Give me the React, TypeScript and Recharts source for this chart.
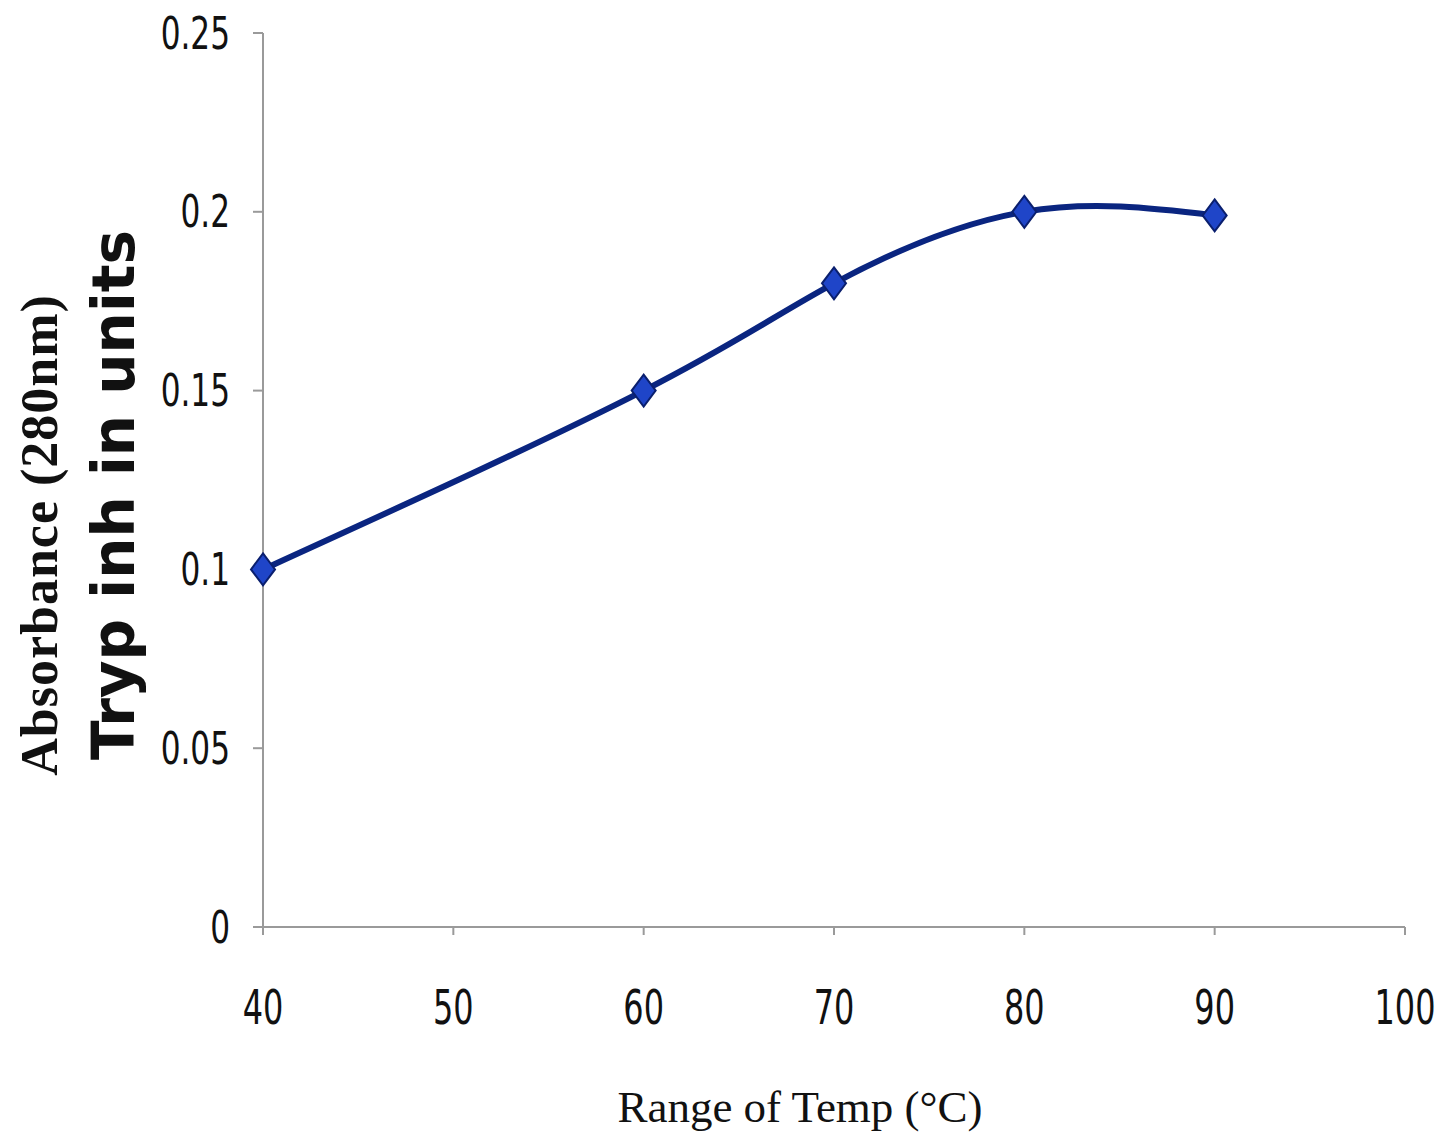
import React from "react";
import { LineChart, Line, XAxis, YAxis, Label } from "recharts";

const temps = [40, 60, 70, 80, 90];
const absorbance = [0.1, 0.15, 0.18, 0.2, 0.199];
const xTicks = [40, 50, 60, 70, 80, 90, 100];
const yTicks = [0, 0.05, 0.1, 0.15, 0.2, 0.25];
const yTickLabels = ["0", "0.05", "0.1", "0.15", "0.2", "0.25"];

const data = temps.map((t, i) => ({ temp: t, value: absorbance[i] }));

const tickFont = "'DejaVu Sans Condensed', 'DejaVu Sans', sans-serif";

const Diamond = (props: any) => {
  const { cx, cy } = props;
  if (cx == null || cy == null) return null;
  const w = 12, h = 16;
  return (
    <polygon
      points={`${cx},${cy - h} ${cx + w},${cy} ${cx},${cy + h} ${cx - w},${cy}`}
      fill="#1f45c8"
      stroke="#0a1f6e"
      strokeWidth={2}
    />
  );
};

const YTick = (props: any) => {
  const { x, y, payload } = props;
  const label = yTickLabels[yTicks.indexOf(payload.value)] ?? String(payload.value);
  return (
    <text
      transform={`translate(${x},${y}) scale(0.77,1)`}
      textAnchor="end"
      dominantBaseline="central"
      fontFamily={tickFont}
      fontSize={45}
      fill="#111"
    >
      {label}
    </text>
  );
};

const XTick = (props: any) => {
  const { x, y, payload } = props;
  return (
    <text
      transform={`translate(${x},${y}) scale(0.74,1)`}
      textAnchor="middle"
      dy="0.71em"
      fontFamily={tickFont}
      fontSize={48}
      fill="#111"
    >
      {payload.value}
    </text>
  );
};

const YLabels = () => (
  <g>
    <text
      x={0}
      y={0}
      transform="translate(57,535) rotate(-90)"
      textAnchor="middle"
      fontFamily="'Liberation Serif', 'DejaVu Serif', serif"
      fontWeight="bold"
      fontSize={52}
      letterSpacing={1}
      fill="#111"
    >
      Absorbance (280nm)
    </text>
    <text
      x={0}
      y={0}
      transform="translate(134,495) rotate(-90)"
      textAnchor="middle"
      fontFamily="'DejaVu Sans', sans-serif"
      fontWeight="bold"
      fontSize={58}
      fill="#111"
    >
      Tryp inh in units
    </text>
  </g>
);

const XLabel = () => (
  <text
    x={800}
    y={1122}
    textAnchor="middle"
    fontFamily="'Liberation Serif', 'DejaVu Serif', serif"
    fontSize={45}
    fill="#111"
  >
    Range of Temp (°C)
  </text>
);

export default function App() {
  return (
    <div style={{ position: "absolute", left: 0, top: 0, width: 1455, height: 1148, background: "#fff" }}>
      <LineChart width={1455} height={1148} data={data} margin={{ top: 33, right: 50, left: 0, bottom: 0 }}>
        <XAxis
          dataKey="temp"
          type="number"
          domain={[40, 100]}
          ticks={xTicks}
          height={221}
          stroke="#9a9a9a"
          strokeWidth={2}
          tickSize={8}
          tickMargin={55}
          tick={<XTick />}
        >
          <Label content={() => <XLabel />} />
        </XAxis>
        <YAxis
          type="number"
          domain={[0, 0.25]}
          ticks={yTicks}
          width={263}
          stroke="#9a9a9a"
          strokeWidth={2}
          tickSize={10}
          tickMargin={23}
          tick={<YTick />}
        >
          <Label content={() => <YLabels />} />
        </YAxis>
        <Line
          type="natural"
          dataKey="value"
          stroke="#0a2580"
          strokeWidth={6}
          dot={<Diamond />}
          activeDot={false}
          isAnimationActive={false}
        />
      </LineChart>
    </div>
  );
}
